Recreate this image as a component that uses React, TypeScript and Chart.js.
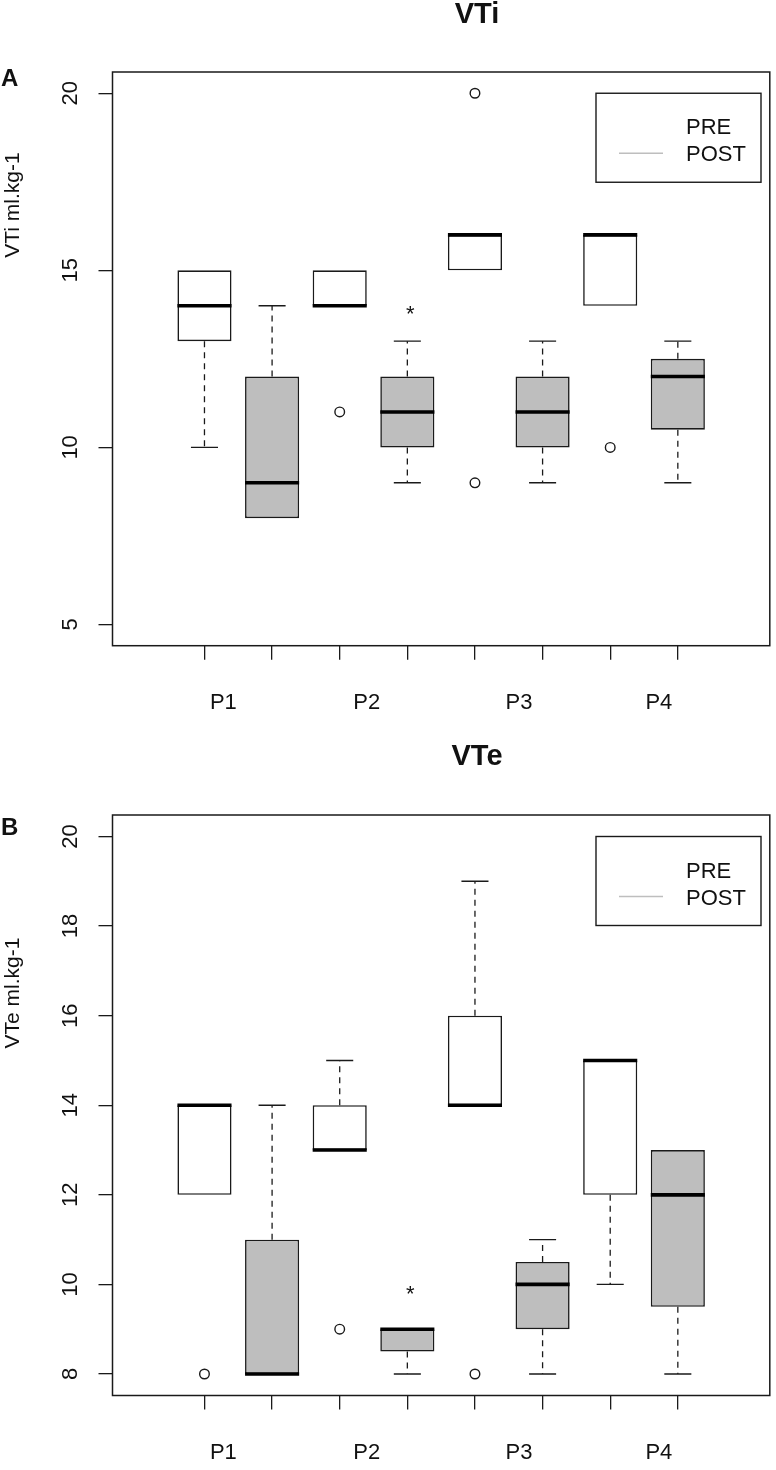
import React, { useEffect, useRef } from "react";
import { Chart, registerables } from "chart.js";

Chart.register(...registerables);

const FONT = "'Liberation Sans', Arial, Helvetica, sans-serif";

// ---- categories ----
const groupNames = ["P1", "P2", "P3", "P4"];
const groupLabelAt = [1.28, 3.4, 5.65, 7.72];
const boxAt = [1, 2, 3, 4, 5, 6, 7, 8];
const boxPhase = ["PRE", "POST", "PRE", "POST", "PRE", "POST", "PRE", "POST"];
const legendLabels = ["PRE", "POST"];

// ---- VTi (panel A) ----
const vtiMin = [10, 8, 14, 9, 15, 9, 14, 9];
const vtiQ1 = [13, 8, 14, 10, 15, 10, 14, 10.5];
const vtiMed = [14, 9, 14, 11, 16, 11, 16, 12];
const vtiQ3 = [15, 12, 15, 12, 16, 12, 16, 12.5];
const vtiMax = [15, 14, 15, 13, 16, 13, 16, 13];
const vtiOutlierBox = [3, 5, 5, 7];
const vtiOutlierVal = [11, 20, 9, 10];
const vtiStarBox = [4];
const vtiStarVal = [13.9];
const vtiTicks = [5, 10, 15, 20];

// ---- VTe (panel B) ----
const vteMin = [12, 8, 13, 8, 14, 8, 10, 8];
const vteQ1 = [12, 8, 13, 8.5, 14, 9, 12, 9.5];
const vteMed = [14, 8, 13, 9, 14, 10, 15, 12];
const vteQ3 = [14, 11, 14, 9, 16, 10.5, 15, 13];
const vteMax = [14, 14, 15, 9, 19, 11, 15, 13];
const vteOutlierBox = [1, 3, 5];
const vteOutlierVal = [8, 9, 8];
const vteStarBox = [4];
const vteStarVal = [9.9];
const vteTicks = [8, 10, 12, 14, 16, 18, 20];

const INK = "#1a1a1a";
const PRE_FILL = "#ffffff";
const POST_FILL = "#bebebe";

type PanelCfg = {
  letter: string;
  title: string;
  ylabel: string;
  min: number[];
  q1: number[];
  med: number[];
  q3: number[];
  max: number[];
  outBox: number[];
  outVal: number[];
  starBox: number[];
  starVal: number[];
  ticks: number[];
  height: number;
  padTop: number;
  axisBottom: number;
  titleY: number;
  letterY: number;
  ylabelY: number;
};

const panels: PanelCfg[] = [
  {
    letter: "A",
    title: "VTi",
    ylabel: "VTi ml.kg-1",
    min: vtiMin,
    q1: vtiQ1,
    med: vtiMed,
    q3: vtiQ3,
    max: vtiMax,
    outBox: vtiOutlierBox,
    outVal: vtiOutlierVal,
    starBox: vtiStarBox,
    starVal: vtiStarVal,
    ticks: vtiTicks,
    height: 735,
    padTop: 72,
    axisBottom: 89.3,
    titleY: 15,
    letterY: 79,
    ylabelY: 205,
  },
  {
    letter: "B",
    title: "VTe",
    ylabel: "VTe ml.kg-1",
    min: vteMin,
    q1: vteQ1,
    med: vteMed,
    q3: vteQ3,
    max: vteMax,
    outBox: vteOutlierBox,
    outVal: vteOutlierVal,
    starBox: vteStarBox,
    starVal: vteStarVal,
    ticks: vteTicks,
    height: 735,
    padTop: 80,
    axisBottom: 74.5,
    titleY: 22,
    letterY: 93,
    ylabelY: 258,
  },
];

const BOX_HALF = 0.4;
const CAP_HALF = 0.2;

function buildDatasets(p: PanelCfg): any[] {
  const boxes = boxAt.map((x, i) => ({ x, y: [p.q1[i], p.q3[i]] }));
  const medians: any[] = [];
  const whiskers: any[] = [];
  const caps: any[] = [];
  boxAt.forEach((x, i) => {
    medians.push({ x: x - BOX_HALF, y: p.med[i] }, { x: x + BOX_HALF, y: p.med[i] }, { x, y: null });
    if (p.max[i] > p.q3[i]) {
      whiskers.push({ x, y: p.q3[i] }, { x, y: p.max[i] }, { x, y: null });
      caps.push({ x: x - CAP_HALF, y: p.max[i] }, { x: x + CAP_HALF, y: p.max[i] }, { x, y: null });
    }
    if (p.min[i] < p.q1[i]) {
      whiskers.push({ x, y: p.q1[i] }, { x, y: p.min[i] }, { x, y: null });
      caps.push({ x: x - CAP_HALF, y: p.min[i] }, { x: x + CAP_HALF, y: p.min[i] }, { x, y: null });
    }
  });
  const outliers = p.outBox.map((b, i) => ({ x: b, y: p.outVal[i] }));

  return [
    {
      type: "bar",
      label: "box",
      data: boxes,
      grouped: false,
      categoryPercentage: 0.8,
      barPercentage: 1.0,
      backgroundColor: boxPhase.map((ph) => (ph === "PRE" ? PRE_FILL : POST_FILL)),
      borderColor: INK,
      borderWidth: 1.6,
      borderSkipped: false,
      order: 4,
    },
    {
      type: "line",
      label: "whisker",
      data: whiskers,
      borderColor: INK,
      borderWidth: 1.3,
      borderDash: [6, 5],
      pointRadius: 0,
      spanGaps: false,
      fill: false,
      order: 3,
    },
    {
      type: "line",
      label: "cap",
      data: caps,
      borderColor: INK,
      borderWidth: 1.4,
      pointRadius: 0,
      spanGaps: false,
      fill: false,
      order: 2,
    },
    {
      type: "line",
      label: "median",
      data: medians,
      borderColor: "#000000",
      borderWidth: 3.6,
      borderCapStyle: "butt",
      pointRadius: 0,
      spanGaps: false,
      fill: false,
      order: 1,
    },
    {
      type: "line",
      label: "outlier",
      data: outliers,
      showLine: false,
      pointStyle: "circle",
      pointRadius: 4.8,
      pointBorderWidth: 1.4,
      pointBorderColor: INK,
      pointBackgroundColor: "#ffffff",
      order: 0,
    },
  ];
}

function makeTextPlugin(p: PanelCfg) {
  return {
    id: "panelText" + p.letter,
    afterDraw(chart: any) {
      const { ctx, chartArea: a, scales } = chart;
      const xs = scales.x;
      const ys = scales.y;
      ctx.save();

      // frame
      ctx.strokeStyle = INK;
      ctx.lineWidth = 1.5;
      ctx.strokeRect(a.left, a.top, a.right - a.left, a.bottom - a.top);

      ctx.fillStyle = "#111111";

      // title
      ctx.font = `bold 29px ${FONT}`;
      ctx.textAlign = "center";
      ctx.textBaseline = "middle";
      ctx.fillText(p.title, 477, p.titleY);

      // panel letter
      ctx.font = `bold 24px ${FONT}`;
      ctx.textAlign = "left";
      ctx.fillText(p.letter, 1, p.letterY);

      // y-axis title
      ctx.save();
      ctx.font = `21px ${FONT}`;
      ctx.translate(13.5, p.ylabelY);
      ctx.rotate(-Math.PI / 2);
      ctx.textAlign = "center";
      ctx.textBaseline = "middle";
      ctx.fillText(p.ylabel, 0, 0);
      ctx.restore();

      // group labels
      ctx.font = `22px ${FONT}`;
      ctx.textAlign = "center";
      ctx.textBaseline = "middle";
      groupNames.forEach((g, i) => {
        ctx.fillText(g, xs.getPixelForValue(groupLabelAt[i]), a.bottom + 57);
      });

      // asterisks
      ctx.font = `22px ${FONT}`;
      ctx.textBaseline = "alphabetic";
      p.starBox.forEach((b, i) => {
        ctx.fillText("*", xs.getPixelForValue(b) + 3, ys.getPixelForValue(p.starVal[i]) + 12);
      });

      // legend
      const top = ys.getPixelForValue(p.ticks[p.ticks.length - 1]);
      const lLeft = 596;
      const lRight = 761;
      ctx.strokeStyle = INK;
      ctx.lineWidth = 1.4;
      ctx.strokeRect(lLeft, top, lRight - lLeft, 89);
      ctx.font = `22px ${FONT}`;
      ctx.textAlign = "left";
      ctx.textBaseline = "middle";
      ctx.fillText(legendLabels[0], 686, top + 35);
      ctx.fillText(legendLabels[1], 686, top + 62);
      ctx.strokeStyle = "#ffffff";
      ctx.lineWidth = 1.3;
      ctx.beginPath();
      ctx.moveTo(619, top + 33);
      ctx.lineTo(663, top + 33);
      ctx.stroke();
      ctx.strokeStyle = POST_FILL;
      ctx.beginPath();
      ctx.moveTo(619, top + 60);
      ctx.lineTo(663, top + 60);
      ctx.stroke();

      ctx.restore();
    },
  };
}

function Panel({ p }: { p: PanelCfg }) {
  const ref = useRef<HTMLCanvasElement | null>(null);
  useEffect(() => {
    if (!ref.current) return;
    const lo = p.ticks[0];
    const hi = p.ticks[p.ticks.length - 1];
    const xLo = 0;
    const xHi = boxAt.length + 1;
    const chart = new Chart(ref.current, {
      type: "bar",
      data: { datasets: buildDatasets(p) as any },
      options: {
        responsive: false,
        animation: false,
        events: [],
        layout: { padding: { top: p.padTop, right: 1, left: 0, bottom: 0 } },
        plugins: {
          legend: { display: false },
          title: { display: false },
          tooltip: { enabled: false },
        },
        scales: {
          x: {
            type: "linear",
            min: xLo - 0.04 * (xHi - xLo),
            max: xHi + 0.04 * (xHi - xLo),
            offset: false,
            afterBuildTicks: (axis: any) => {
              axis.ticks = boxAt.map((v) => ({ value: v }));
            },
            ticks: { display: false },
            grid: {
              drawOnChartArea: false,
              drawTicks: true,
              tickLength: 14,
              color: INK,
              lineWidth: 1.3,
              offset: false,
            },
            border: { display: false },
            afterFit: (s: any) => {
              s.height = p.axisBottom;
            },
          } as any,
          y: {
            type: "linear",
            min: lo - 0.04 * (hi - lo),
            max: hi + 0.04 * (hi - lo),
            afterBuildTicks: (axis: any) => {
              axis.ticks = p.ticks.map((v) => ({ value: v }));
            },
            ticks: {
              font: { family: FONT, size: 22 },
              color: "#111111",
              minRotation: 90,
              maxRotation: 90,
              crossAlign: "center",
              padding: 15,
              autoSkip: false,
            },
            grid: {
              drawOnChartArea: false,
              tickLength: 14,
              color: INK,
              lineWidth: 1.3,
            },
            border: { display: false },
            afterFit: (s: any) => {
              s.width = 112.5;
            },
          } as any,
        },
      },
      plugins: [makeTextPlugin(p)],
    });
    return () => chart.destroy();
  }, [p]);
  return <canvas ref={ref} width={776} height={p.height} style={{ display: "block" }} />;
}

export default function App() {
  useEffect(() => {
    document.body.style.margin = "0";
    document.body.style.background = "#ffffff";
  }, []);
  return (
    <div style={{ width: 776, background: "#ffffff" }}>
      {panels.map((p) => (
        <Panel key={p.letter} p={p} />
      ))}
    </div>
  );
}
